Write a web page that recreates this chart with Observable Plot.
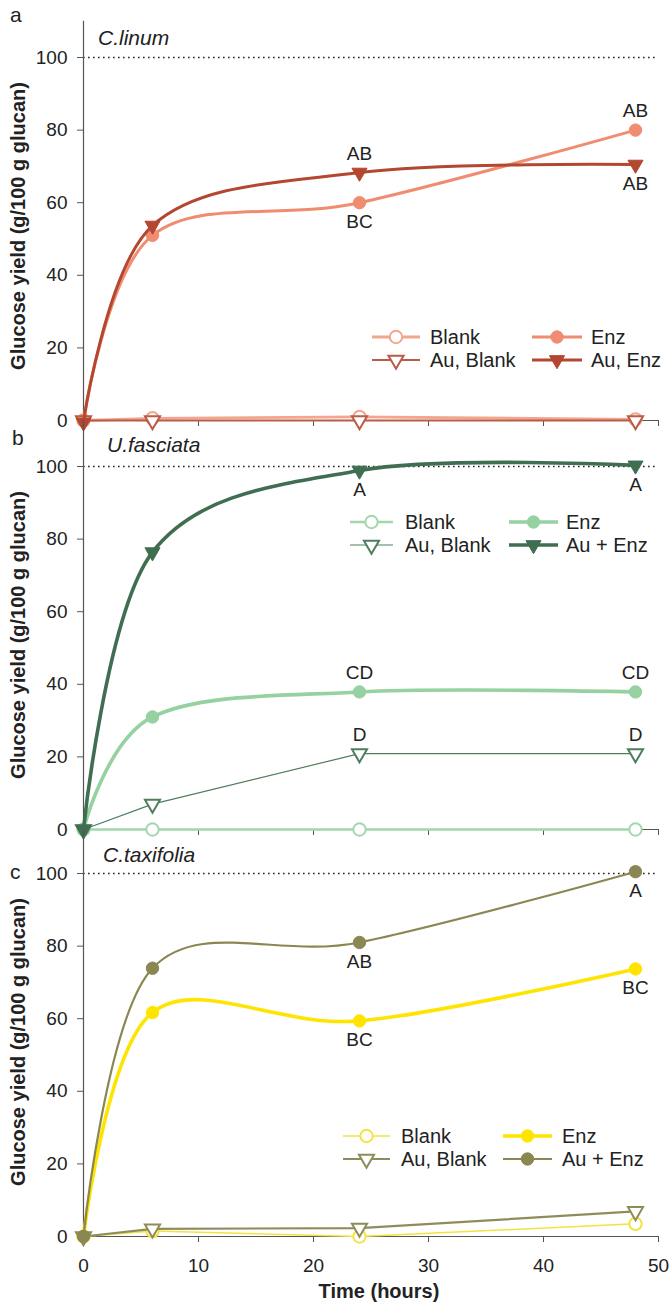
<!DOCTYPE html>
<html>
<head>
<meta charset="utf-8">
<script src="https://cdn.jsdelivr.net/npm/d3@7"></script>
<script src="https://cdn.jsdelivr.net/npm/@observablehq/plot@0.6"></script>
<style>
  body { margin: 0; background: #fff; }
  #wrap { position: relative; width: 672px; height: 1309px; overflow: hidden; font-family: "Liberation Sans", Arial, sans-serif; }
  #wrap > svg, #wrap > .pl { position: absolute; left: 0; }
</style>
</head>
<body>
<div id="wrap"></div>
<script>
// ---------------- data ----------------
const hours = [0, 6, 24, 48];
const xTicks = [0, 10, 20, 30, 40, 50];
const yTicks = [0, 20, 40, 60, 80, 100];

// a: C. linum
const linumBlank   = [0, 0.6, 1.0, 0.3];
const linumEnz     = [0, 51, 60, 80];
const linumAuBlank = [0, 0, 0, 0];
const linumAuEnz   = [-0.5, 53.7, 68.3, 70.5];
const linumNames   = ["Blank", "Enz", "Au, Blank", "Au, Enz"];
const linumLetters = [
  {hour: 24, series: 3, text: "AB", side: "above"},
  {hour: 24, series: 1, text: "BC", side: "below"},
  {hour: 48, series: 1, text: "AB", side: "above"},
  {hour: 48, series: 3, text: "AB", side: "below"}
];

// b: U. fasciata
const fasciataBlank   = [0, 0, 0, 0];
const fasciataEnz     = [0, 31, 37.9, 37.9];
const fasciataAuBlank = [0, 7, 20.9, 20.9];
const fasciataAuEnz   = [0, 76.4, 98.9, 100.3];
const fasciataNames   = ["Blank", "Enz", "Au, Blank", "Au + Enz"];
const fasciataLetters = [
  {hour: 24, series: 3, text: "A", side: "below"},
  {hour: 48, series: 3, text: "A", side: "below"},
  {hour: 24, series: 1, text: "CD", side: "above"},
  {hour: 48, series: 1, text: "CD", side: "above"},
  {hour: 24, series: 2, text: "D", side: "above"},
  {hour: 48, series: 2, text: "D", side: "above"}
];

// c: C. taxifolia
const taxifoliaBlank   = [0, 1.5, 0, 3.5];
const taxifoliaEnz     = [0, 61.7, 59.4, 73.7];
const taxifoliaAuBlank = [0, 2.1, 2.3, 6.9];
const taxifoliaAuEnz   = [0, 73.9, 81, 100.5];
const taxifoliaNames   = ["Blank", "Enz", "Au, Blank", "Au + Enz"];
const taxifoliaLetters = [
  {hour: 24, series: 3, text: "AB", side: "below"},
  {hour: 48, series: 3, text: "A", side: "below"},
  {hour: 24, series: 1, text: "BC", side: "below"},
  {hour: 48, series: 1, text: "BC", side: "below"}
];

// ---------------- styles / layout ----------------
const FONT = '"Liberation Sans", Arial, sans-serif';
const W = 672, H = 1309;
const PX = 3.63;            // px per y unit
const X0 = 83, X1 = 658;

const triDown = {
  draw(context, size) {
    const y = -Math.sqrt(size / (Math.sqrt(3) * 3));
    context.moveTo(0, -y * 2);
    context.lineTo(-Math.sqrt(3) * y, y);
    context.lineTo(Math.sqrt(3) * y, y);
    context.closePath();
  }
};

const panels = [
  {
    letter: "a", species: "C.linum",
    series: [linumBlank, linumEnz, linumAuBlank, linumAuEnz], names: linumNames, letters: linumLetters,
    styles: [
      {stroke: "#f3a58d", width: 2.8, symbol: "circle", open: true, curve: "linear"},
      {stroke: "#f08c70", width: 3, symbol: "circle", open: false, curve: "cardinal"},
      {stroke: "#b95c47", width: 1.8, symbol: triDown, open: true, curve: "linear"},
      {stroke: "#b3472f", width: 3, symbol: triDown, open: false, curve: "cardinal"}
    ],
    y0: 420, yTop: 20.7, svgTop: 0, svgH: 440, xLabels: false,
    letterPos: [10, 22], speciesPos: [98, 45],
    legend: {rows: [337, 360], cols: [[372, 420, 430], [532, 582, 591]]}
  },
  {
    letter: "b", species: "U.fasciata",
    series: [fasciataBlank, fasciataEnz, fasciataAuBlank, fasciataAuEnz], names: fasciataNames, letters: fasciataLetters,
    styles: [
      {stroke: "#a3d6ac", width: 2.6, symbol: "circle", open: true, curve: "linear"},
      {stroke: "#95d1a1", width: 3.6, symbol: "circle", open: false, curve: "cardinal"},
      {stroke: "#4f7e5f", width: 1.2, symbol: triDown, open: true, curve: "linear"},
      {stroke: "#3f6e50", width: 3.6, symbol: triDown, open: false, curve: "cardinal"}
    ],
    y0: 829, yTop: 420, svgTop: 410, svgH: 440, xLabels: false,
    letterPos: [12, 445], speciesPos: [107, 452],
    legend: {rows: [522, 545], cols: [[350, 393, 405], [509, 558, 566]]}
  },
  {
    letter: "c", species: "C.taxifolia",
    series: [taxifoliaBlank, taxifoliaEnz, taxifoliaAuBlank, taxifoliaAuEnz], names: taxifoliaNames, letters: taxifoliaLetters,
    styles: [
      {stroke: "#f2e340", width: 1.5, symbol: "circle", open: true, curve: "linear"},
      {stroke: "#ffe400", width: 3.6, symbol: "circle", open: false, curve: "cardinal"},
      {stroke: "#8f8c5b", width: 2.2, symbol: triDown, open: true, curve: "linear"},
      {stroke: "#8b8753", width: 2.2, symbol: "circle", open: false, curve: "cardinal"}
    ],
    y0: 1236, yTop: 829, svgTop: 820, svgH: 489, xLabels: true,
    letterPos: [10, 879], speciesPos: [103, 862],
    legend: {rows: [1136, 1159], cols: [[343, 390, 401], [503, 552, 562]]}
  }
];

const wrap = document.getElementById("wrap");

function symR(style) { return style.symbol === "circle" ? 6.2 : 5.6; }

panels.forEach((p) => {
  const rows = p.series.map((vals, s) => hours.map((h, i) => ({hour: h, value: vals[i], s})));
  const marks = [
    Plot.ruleY([100], {stroke: "#222", strokeWidth: 1.6, strokeDasharray: "1.6,3.4"}),
    Plot.axisY({ticks: yTicks, tickSize: 6, tickPadding: 10, label: null, stroke: "#555", fontSize: 19}),
    Plot.axisX({ticks: xTicks, tickSize: 6, tickPadding: 16, label: null, stroke: "#555", fontSize: 19,
      tickFormat: p.xLabels ? (d) => String(d) : () => ""}),
    Plot.ruleX([0], {stroke: "#555", strokeWidth: 1.2}),
    Plot.ruleY([0], {stroke: "#555", strokeWidth: 1.2})
  ];
  rows.forEach((data, s) => {
    const st = p.styles[s];
    marks.push(Plot.line(data, {x: "hour", y: "value", stroke: st.stroke, strokeWidth: st.width, curve: st.curve}));
    marks.push(Plot.dot(data, {x: "hour", y: "value", r: symR(st), symbol: st.symbol,
      fill: st.open ? "white" : st.stroke, stroke: st.stroke, strokeWidth: st.open ? 2 : 1}));
  });
  const lab = p.letters.map((d) => ({...d, value: p.series[d.series][hours.indexOf(d.hour)]}));
  marks.push(Plot.text(lab.filter((d) => d.side === "above"), {x: "hour", y: "value", text: "text", dy: -19, fontSize: 19, fill: "#222"}));
  marks.push(Plot.text(lab.filter((d) => d.side === "below"), {x: "hour", y: "value", text: "text", dy: 19, fontSize: 19, fill: "#222"}));

  const chart = Plot.plot({
    width: W, height: p.svgH,
    marginLeft: X0, marginRight: W - X1,
    marginTop: p.yTop - p.svgTop, marginBottom: p.svgTop + p.svgH - p.y0,
    style: {background: "transparent", overflow: "visible", fontFamily: FONT, fontSize: "19px", color: "#222"},
    x: {domain: [0, 50]},
    y: {domain: [0, (p.y0 - p.yTop) / PX]},
    marks
  });
  chart.classList.add("pl");
  chart.style.position = "absolute";
  chart.style.top = p.svgTop + "px";
  chart.style.left = "0px";
  wrap.appendChild(chart);
});

// ---------------- overlay: panel letters, species names, axis titles, legends ----------------
const ov = d3.select(wrap).append("svg")
  .attr("width", W).attr("height", H)
  .style("position", "absolute").style("top", "0px").style("left", "0px")
  .style("overflow", "visible").style("pointer-events", "none")
  .attr("font-family", FONT).attr("fill", "#222");

panels.forEach((p) => {
  ov.append("text").attr("x", p.letterPos[0]).attr("y", p.letterPos[1]).attr("font-size", 21).text(p.letter);
  ov.append("text").attr("x", p.speciesPos[0]).attr("y", p.speciesPos[1]).attr("font-size", 21)
    .attr("font-style", "italic").text(p.species);
  ov.append("text")
    .attr("transform", `translate(18,${p.y0 - 194}) rotate(-90)`)
    .attr("text-anchor", "middle").attr("dominant-baseline", "central")
    .attr("font-size", 20).attr("font-weight", "bold")
    .text("Glucose yield (g/100 g glucan)");
  // legend
  const order = [[0, 0, 0], [1, 0, 1], [2, 1, 0], [3, 1, 1]]; // series, row, col
  order.forEach(([s, r, c]) => {
    const st = p.styles[s];
    const y = p.legend.rows[r];
    const [x1, x2, tx] = p.legend.cols[c];
    ov.append("line").attr("x1", x1).attr("x2", x2).attr("y1", y).attr("y2", y)
      .attr("stroke", st.stroke).attr("stroke-width", st.width);
    const rr = symR(st);
    const sym = st.symbol === "circle" ? d3.symbolCircle : st.symbol;
    ov.append("path").attr("d", d3.symbol(sym, rr * rr * Math.PI)())
      .attr("transform", `translate(${(x1 + x2) / 2},${y})`)
      .attr("fill", st.open ? "white" : st.stroke).attr("stroke", st.stroke)
      .attr("stroke-width", st.open ? 2 : 1);
    ov.append("text").attr("x", tx).attr("y", y + 7).attr("font-size", 20).text(p.names[s]);
  });
});

ov.append("text").attr("x", 379).attr("y", 1298).attr("text-anchor", "middle")
  .attr("font-size", 20).attr("font-weight", "bold").text("Time (hours)");
</script>
</body>
</html>
